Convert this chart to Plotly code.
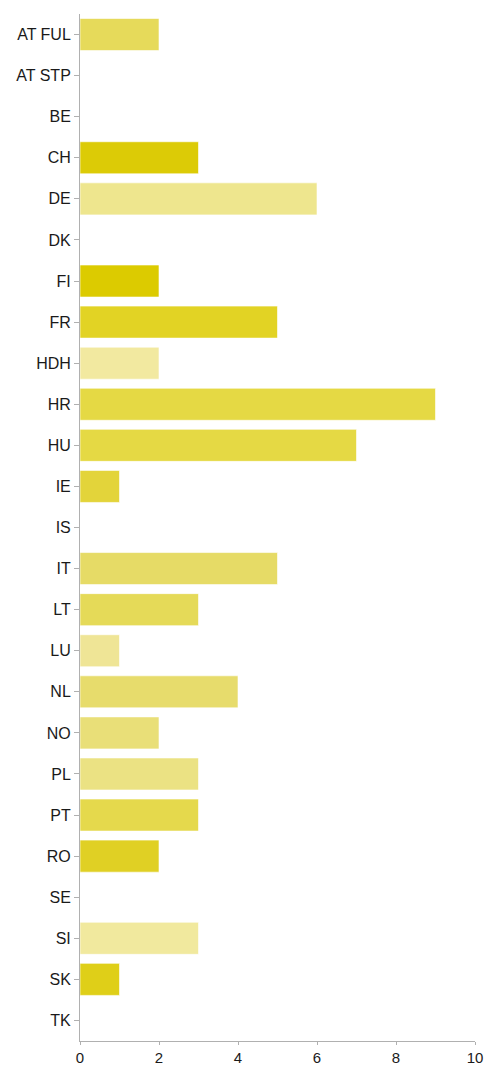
import plotly.graph_objects as go

# Country codes and counts per country
countries = ["AT FUL", "AT STP", "BE", "CH", "DE", "DK", "FI", "FR", "HDH", "HR",
             "HU", "IE", "IS", "IT", "LT", "LU", "NL", "NO", "PL", "PT",
             "RO", "SE", "SI", "SK", "TK"]
counts = [2, 0, 0, 3, 6, 0, 2, 5, 2, 9,
          7, 1, 0, 5, 3, 1, 4, 2, 3, 3,
          2, 0, 3, 1, 0]
bar_colors = ["#e6da5a", "#e6da5a", "#e6da5a", "#dccb06", "#eee68e", "#e6da5a", "#dccb00", "#e2d324", "#f2e9a0", "#e5d944",
              "#e5d944", "#e3d43a", "#e6da5a", "#e6db66", "#e5da58", "#efe596", "#e7dc6c", "#e9df78", "#ebe283", "#e5d94c",
              "#e0d024", "#e6da5a", "#f1e99e", "#dfcf18", "#e6da5a"]
x_ticks = [0, 2, 4, 6, 8, 10]

fig = go.Figure(
    go.Bar(
        y=countries,
        x=counts,
        orientation="h",
        marker=dict(color=bar_colors, line=dict(color="rgba(255,255,255,0.6)", width=1)),
        hoverinfo="x+y",
    )
)

fig.update_layout(
    width=487,
    height=1067,
    margin=dict(l=80, r=12, t=14, b=26),
    paper_bgcolor="white",
    plot_bgcolor="white",
    bargap=0.22,
    showlegend=False,
    font=dict(family="Liberation Sans, Arial, sans-serif", size=16, color="#1a1a1a"),
)

fig.update_xaxes(
    range=[0, 10],
    tickvals=x_ticks,
    showgrid=False,
    zeroline=False,
    showline=True,
    linecolor="#b0b0b0",
    linewidth=1,
    ticks="outside",
    ticklen=3,
    tickcolor="#b0b0b0",
    tickfont=dict(size=15, color="#1a1a1a"),
    automargin=False,
)

fig.update_yaxes(
    categoryorder="array",
    categoryarray=countries,
    autorange="reversed",
    showgrid=False,
    zeroline=False,
    showline=True,
    linecolor="#b0b0b0",
    linewidth=1,
    ticks="outside",
    ticklen=5,
    tickcolor="#b0b0b0",
    tickfont=dict(size=16, color="#1a1a1a"),
    automargin=False,
)

fig.write_html("out.html")
